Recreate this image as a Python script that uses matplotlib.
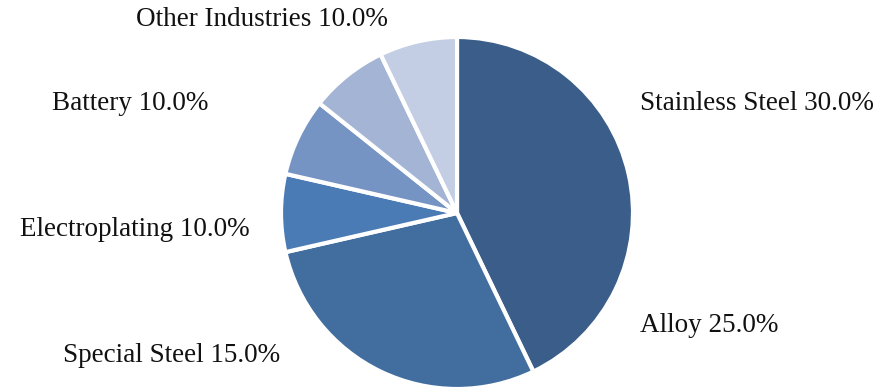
import matplotlib.pyplot as plt

# slice sizes as drawn in the picture
values = [30, 20, 5, 5, 5, 5]
colors = ['#3a5d89', '#426e9f', '#4a7bb5', '#7594c4', '#a3b4d4', '#c3cde3']

# label texts as printed on the chart
names = ['Stainless Steel', 'Alloy', 'Special Steel', 'Electroplating', 'Battery', 'Other Industries']
shares = [30.0, 25.0, 15.0, 10.0, 10.0, 10.0]

fig = plt.figure(figsize=(8.79, 3.90), dpi=100)
ax = fig.add_axes([0, 0, 1, 1])

ax.pie(values, colors=colors, startangle=90, counterclock=False,
       center=(457, 177), radius=176,
       wedgeprops=dict(edgecolor='white', linewidth=3))

# pie() resets the limits, so set them afterwards
ax.set_xlim(0, 879)
ax.set_ylim(0, 390)
ax.set_aspect('equal')
ax.axis('off')

# label anchor (x, y, alignment) in pixel-like coords
spots = [(640, 287, 'left'), (640, 64, 'left'), (280, 34, 'right'),
         (250, 160, 'right'), (208, 287, 'right'), (388, 370, 'right')]
for (x, y, ha), n, s in zip(spots, names, shares):
    ax.text(x, y, '%s %.1f%%' % (n, s), ha=ha, va='center',
            fontsize=19.5, family='Liberation Serif', color='#111111')

fig.savefig('out.png', dpi=100)
